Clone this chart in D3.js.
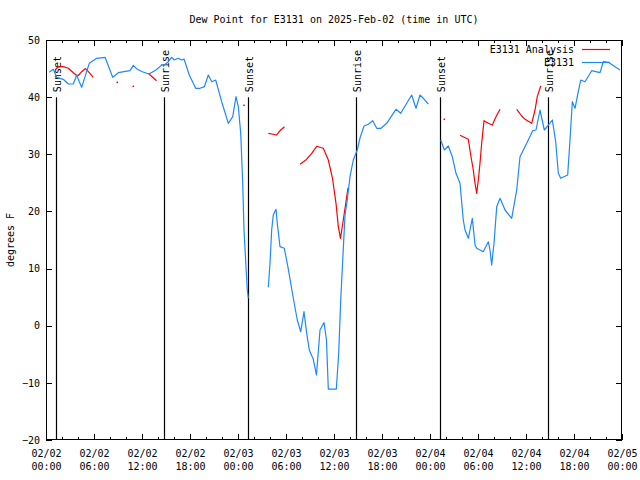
<!DOCTYPE html>
<html><head><meta charset="utf-8">
<script src="https://cdn.jsdelivr.net/npm/d3@7"></script>
<style>
html,body{margin:0;padding:0;background:#fff;}
svg{display:block;}
text{font-family:"DejaVu Sans Mono",monospace;font-size:10px;fill:#000;}
</style></head><body>
<svg id="chart" width="640" height="480"></svg>
<script>
// ---- data ----
const startTime = Date.UTC(2025, 1, 2, 0, 0);
const endTime = Date.UTC(2025, 1, 5, 0, 0);
const titleText = "Dew Point for E3131 on 2025-Feb-02 (time in UTC)";
const yLabelText = "degrees F";
const yTicks = [-20, -10, 0, 10, 20, 30, 40, 50];
const seriesNames = ["E3131 Analysis", "E3131"];

// observed (hours since start, deg F); null = gap
const obsHours = [0.41,0.91,1.34,2.16,2.79,3.41,3.84,4.16,4.46,4.88,5.41,6.34,7.38,8.34,9.04,9.75,10.5,10.91,11.41,12.04,12.88,13.75,14.46,14.88,15.29,15.71,16.04,16.54,16.96,17.25,17.91,18.71,19.25,19.79,20.29,20.71,21.21,21.96,22.79,23.34,23.75,24.04,24.34,24.59,24.75,25.0,25.16,25.29,
  26.5,
  27.79,28.0,28.21,28.41,28.75,28.91,29.25,29.79,30.29,30.91,31.41,31.84,32.25,32.59,32.91,33.41,33.81,34.25,34.75,35.06,35.29,35.75,36.29,36.59,36.84,37.09,37.38,37.66,38.0,38.41,38.91,39.25,39.75,40.29,40.84,41.34,41.88,42.59,43.41,43.75,44.34,45.09,45.71,46.25,46.75,47.25,47.79,
  48.5,
  49.34,49.79,50.29,50.79,51.25,51.75,52.16,52.38,52.79,53.29,53.63,53.84,54.66,55.29,55.5,55.71,56.0,56.34,56.75,57.38,58.21,58.84,59.25,60.09,60.84,61.25,61.75,62.29,62.79,63.29,63.71,64.04,64.34,65.21,65.5,65.79,66.13,66.41,66.84,67.38,68.21,69.25,69.66,70.29,71.75];
const obsValues = [44.35,44.87,43.47,43.12,42.3,42.3,43.87,42.7,41.72,43.58,45.92,46.8,46.97,43.47,44.28,44.45,44.63,45.57,44.87,44.45,44.05,44.75,45.6,45.7,46.2,46.97,46.5,46.8,46.5,46.67,43.87,41.55,41.55,41.83,43.87,42.7,43.0,39.2,35.42,36.58,40.08,38.33,33.67,24.92,16.75,10.33,6.25,4.8,
  null,
  6.72,10.92,16.75,19.37,20.37,17.92,13.83,13.55,9.92,4.85,1.0,-1.05,2.45,-1.33,-4.25,-5.88,-8.63,-0.75,0.56,-2.5,-11.08,-11.08,-11.08,-4.78,4.5,11.5,19.4,22.0,26.08,29.0,30.75,32.85,34.95,35.25,35.88,34.55,34.55,35.42,37.17,37.87,37.17,38.92,40.37,38.05,40.37,39.67,38.8,
  null,
  32.5,30.75,31.45,29.58,26.67,24.92,18.5,16.75,15.3,18.8,14.13,13.55,12.95,14.7,13.25,10.62,14.42,20.83,22.3,20.25,18.8,23.75,29.58,31.92,34.13,34.25,37.75,34.25,35.12,36.0,32.2,26.67,25.8,26.37,32.5,39.2,38.05,40.08,43.0,42.7,44.63,44.28,46.2,46.1,44.75];

// analysis (hours since start, deg F); null = gap
const anaHours = [1.13,1.54,2.16,2.79,3.21,3.75,4.04,4.46,4.94,5.41,5.91,
  7.0, 8.91, 10.0, 10.91, 12.0,
  12.81,13.81,
  20.0, 24.75, 26.0,
  27.79,28.41,28.81,29.25,29.81,
  31.0,
  31.75,32.56,33.21,33.84,34.66,35.29,35.81,36.25,36.54,36.81,37.16,37.5,37.75,
  45.0, 49.79, 51.0,
  51.75,52.79,53.09,53.41,53.63,53.84,54.04,54.25,54.46,54.75,55.29,55.79,56.25,56.75,
  58.0,
  58.84,59.46,59.88,60.71,61.13,61.41,61.84];
const anaValues = [44.75,45.33,45.33,45.05,44.54,43.87,43.79,44.45,45.0,44.28,43.47,
  null, 42.6, null, 41.9, null,
  44.14,42.88,
  null, 38.57, null,
  33.67,33.5,33.37,34.13,34.83,
  null,
  28.26,29.09,30.17,31.4,31.05,29.0,25.8,21.42,17.33,15.3,18.5,21.7,24.15,
  null, 36.12, null,
  33.32,32.62,29.87,27.25,24.92,23.17,25.5,28.42,31.92,35.88,35.42,35.12,36.58,37.87,
  null,
  37.87,36.7,36.12,35.42,37.75,40.08,41.95];

const sunHours = [1.25, 14.79, 25.29, 38.75, 49.29, 62.79];
const sunLabels = ["Sunset", "Sunrise", "Sunset", "Sunrise", "Sunset", "Sunrise"];

const colors = {analysis: "#ff0000", obs: "#1e88ff"};

// ---- layout ----
const L = 46, R = 622, T = 40, B = 440;
const svg = d3.select("#chart");
const HOUR = 3600 * 1000;
const x = d3.scaleUtc().domain([new Date(startTime), new Date(endTime)]).range([L, R]);
const y = d3.scaleLinear().domain([-20, 50]).range([B, T]);
const toPts = (hs, vs) => hs.map((h, i) => ({t: new Date(startTime + h * HOUR), v: vs[i]}));
const obs = toPts(obsHours, obsValues);
const ana = toPts(anaHours, anaValues);

// title
svg.append("text").attr("x", (L + R) / 2).attr("y", 23).attr("text-anchor", "middle").text(titleText);
// y label
svg.append("text").attr("transform", `translate(14,${(T + B) / 2}) rotate(-90)`).attr("text-anchor", "middle").text(yLabelText);

// axes
const majorTicks = d3.utcHour.every(6).range(new Date(startTime), new Date(endTime + 1));
const minorTicks = d3.utcHour.every(2).range(new Date(startTime), new Date(endTime + 1));
const fmtD = d3.utcFormat("%m/%d"), fmtT = d3.utcFormat("%H:%M");

const xb = svg.append("g").attr("transform", `translate(0,${B})`)
  .call(d3.axisBottom(x).tickValues(majorTicks).tickSize(0).tickPadding(8).tickFormat(""));
xb.select(".domain").remove();
xb.selectAll(".tick").each(function(d) {
  const t = d3.select(this).append("text").attr("fill", "#000").attr("text-anchor", "middle").attr("y", 17);
  t.append("tspan").attr("x", 0).text(fmtD(d));
  t.append("tspan").attr("x", 0).attr("dy", 13).text(fmtT(d));
});

const yl = svg.append("g").attr("transform", `translate(${L},0)`)
  .call(d3.axisLeft(y).tickValues(yTicks).tickSize(0).tickPadding(6));
yl.select(".domain").remove();
yl.selectAll("text").attr("font-family", '"DejaVu Sans Mono",monospace').attr("font-size", 10).attr("fill", "#000");

const tk = svg.append("g").attr("stroke", "#000").attr("stroke-width", 1).attr("shape-rendering", "crispEdges");
minorTicks.forEach(d => {
  const isMajor = d.getUTCHours() % 6 === 0;
  const len = isMajor ? 6 : 3;
  const xx = Math.round(x(d)) + 0.5;
  tk.append("line").attr("x1", xx).attr("x2", xx).attr("y1", B).attr("y2", B - len);
  tk.append("line").attr("x1", xx).attr("x2", xx).attr("y1", T).attr("y2", T + len);
});
yTicks.forEach(v => {
  const yy = Math.round(y(v)) + 0.5;
  tk.append("line").attr("x1", L).attr("x2", L + 6).attr("y1", yy).attr("y2", yy);
  tk.append("line").attr("x1", R).attr("x2", R - 6).attr("y1", yy).attr("y2", yy);
});

// sunrise / sunset lines
sunHours.forEach((h, i) => {
  const xx = Math.round(x(new Date(startTime + h * HOUR))) + 0.5;
  svg.append("line").attr("x1", xx).attr("x2", xx).attr("y1", y(40)).attr("y2", B)
    .attr("stroke", "#000").attr("stroke-width", 1.2);
  svg.append("text").attr("transform", `translate(${xx + 4},${y(40) - 5}) rotate(-90)`)
    .attr("text-anchor", "start").text(sunLabels[i]);
});

// series
const line = d3.line().defined(d => d.v !== null).x(d => x(d.t)).y(d => y(d.v));
function drawSeries(pts, color) {
  svg.append("path").datum(pts).attr("fill", "none").attr("stroke", color).attr("stroke-width", 1.2)
    .attr("stroke-linejoin", "round").attr("d", line);
  pts.forEach((d, i) => {
    if (d.v === null) return;
    const prev = i > 0 ? pts[i - 1].v : null, next = i < pts.length - 1 ? pts[i + 1].v : null;
    if (prev === null && next === null) {
      svg.append("rect").attr("x", x(d.t) - 0.75).attr("y", y(d.v) - 0.75).attr("width", 1.5).attr("height", 1.5).attr("fill", color);
    }
  });
}
drawSeries(ana, colors.analysis);
drawSeries(obs, colors.obs);

// frame
svg.append("rect").attr("x", L + 0.5).attr("y", T + 0.5).attr("width", R - L - 1).attr("height", B - T - 1)
  .attr("fill", "none").attr("stroke", "#000").attr("shape-rendering", "crispEdges");

// legend
const lg = svg.append("g");
[[seriesNames[0], colors.analysis, 49], [seriesNames[1], colors.obs, 62]].forEach(([name, c, yy]) => {
  lg.append("text").attr("x", 574).attr("y", yy + 4).attr("text-anchor", "end").text(name);
  lg.append("line").attr("x1", 582).attr("x2", 610).attr("y1", yy + 0.5).attr("y2", yy + 0.5).attr("stroke", c).attr("stroke-width", 1.2);
});
</script>
</body></html>
